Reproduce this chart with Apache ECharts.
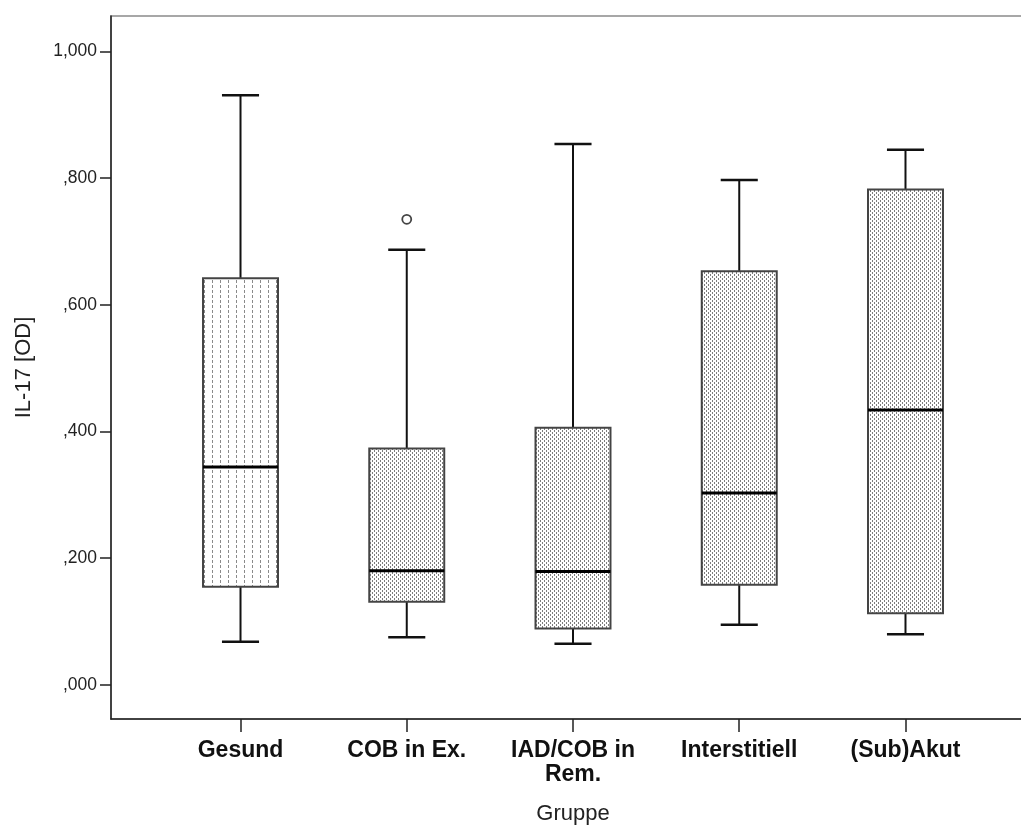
<!DOCTYPE html>
<html>
<head>
<meta charset="utf-8">
<script src="https://cdn.jsdelivr.net/npm/echarts@6/dist/echarts.min.js"></script>
<style>
  html, body { margin: 0; padding: 0; background: #fff; }
  #chart { width: 1021px; height: 829px; }
</style>
</head>
<body>
<div id="chart"></div>
<script>
// Gruppen und Boxplot-Kennwerte (IL-17 [OD])
const categories = ['Gesund', 'COB in Ex.', 'IAD/COB in\nRem.', 'Interstitiell', '(Sub)Akut']
const whiskerLow = [0.068, 0.075, 0.065, 0.095, 0.080]
const q1 = [0.155, 0.131, 0.089, 0.158, 0.113]
const median = [0.344, 0.180, 0.179, 0.303, 0.434]
const q3 = [0.642, 0.373, 0.406, 0.653, 0.782]
const whiskerHigh = [0.931, 0.687, 0.854, 0.797, 0.845]
const outliers = [[1, 0.735]]
const yTicks = [0, 0.2, 0.4, 0.6, 0.8, 1.0]

// Füllmuster wie im SPSS-Diagramm
function makePattern(w, h, draw) {
  const c = document.createElement('canvas')
  c.width = w
  c.height = h
  const ctx = c.getContext('2d')
  draw(ctx)
  return { image: c, repeat: 'repeat' }
}
const stripePattern = makePattern(8, 5, ctx => {
  ctx.fillStyle = '#8a8a8a'
  ctx.fillRect(4, 0, 1, 3)
})
const dotPattern = makePattern(4, 4, ctx => {
  ctx.fillStyle = '#7d7d7d'
  ctx.fillRect(0, 0, 1, 2)
  ctx.fillRect(2, 2, 1, 2)
})

const boxData = categories.map((c, i) => [i, whiskerLow[i], q1[i], median[i], q3[i], whiskerHigh[i]])

function fmtTick(v) {
  return v.toFixed(3).replace('.', ',').replace(/^0/, '')
}

function renderBox(params, api) {
  const x = api.value(0)
  const pLow = api.coord([x, api.value(1)])
  const pQ1 = api.coord([x, api.value(2)])
  const pMed = api.coord([x, api.value(3)])
  const pQ3 = api.coord([x, api.value(4)])
  const pHigh = api.coord([x, api.value(5)])
  const band = api.size([1, 0])[0]
  const boxW = band * 0.451
  const capW = band * 0.223
  const cx = pMed[0]
  const lineStyle = { stroke: '#111', lineWidth: 2 }
  return {
    type: 'group',
    children: [
      { type: 'line', shape: { x1: cx, y1: pHigh[1], x2: cx, y2: pQ3[1] }, style: lineStyle },
      { type: 'line', shape: { x1: cx, y1: pQ1[1], x2: cx, y2: pLow[1] }, style: lineStyle },
      { type: 'line', shape: { x1: cx - capW / 2, y1: pHigh[1], x2: cx + capW / 2, y2: pHigh[1] }, style: { stroke: '#111', lineWidth: 2.5 } },
      { type: 'line', shape: { x1: cx - capW / 2, y1: pLow[1], x2: cx + capW / 2, y2: pLow[1] }, style: { stroke: '#111', lineWidth: 2.5 } },
      {
        type: 'rect',
        shape: { x: cx - boxW / 2, y: pQ3[1], width: boxW, height: pQ1[1] - pQ3[1] },
        style: { fill: params.dataIndex === 0 ? stripePattern : dotPattern, stroke: '#444', lineWidth: 2 }
      },
      { type: 'line', shape: { x1: cx - boxW / 2, y1: pMed[1], x2: cx + boxW / 2, y2: pMed[1] }, style: { stroke: '#000', lineWidth: 3 } }
    ]
  }
}

function renderOutlier(params, api) {
  const p = api.coord([api.value(0), api.value(1)])
  return {
    type: 'circle',
    shape: { cx: p[0], cy: p[1], r: 4.5 },
    style: { fill: '#fff', stroke: '#444', lineWidth: 1.8 }
  }
}

const chart = echarts.init(document.getElementById('chart'), null, { renderer: 'canvas' })

chart.setOption({
  backgroundColor: '#fff',
  animation: false,
  textStyle: { fontFamily: 'Liberation Sans, Arial, sans-serif' },
  grid: {
    left: 111, top: 16, width: 924, height: 703,
    outerBoundsMode: 'none',
    containLabel: false,
    show: true, borderColor: '#8a8a8a', borderWidth: 1.5, backgroundColor: 'transparent'
  },
  xAxis: {
    type: 'value',
    min: -0.779,
    max: 4.779,
    name: 'Gruppe',
    nameLocation: 'middle',
    nameGap: 84,
    nameTextStyle: { fontSize: 22, color: '#222' },
    axisLine: { show: true, onZero: false, lineStyle: { color: '#222', width: 1.5 } },
    axisTick: { show: true, length: 13, customValues: [0, 1, 2, 3, 4], lineStyle: { color: '#222', width: 1.5 } },
    axisLabel: {
      customValues: [0, 1, 2, 3, 4],
      formatter: v => categories[Math.round(v)],
      fontSize: 23,
      fontWeight: 'bold',
      color: '#111',
      margin: 20,
      lineHeight: 24
    },
    splitLine: { show: false }
  },
  yAxis: {
    type: 'value',
    min: -0.054,
    max: 1.056,
    name: 'IL-17 [OD]',
    nameLocation: 'middle',
    nameGap: 76,
    nameTextStyle: { fontSize: 22, color: '#222' },
    axisLine: { show: true, onZero: false, lineStyle: { color: '#222', width: 1.5 } },
    axisTick: { show: true, length: 11, customValues: yTicks, lineStyle: { color: '#222', width: 1.5 } },
    axisLabel: {
      customValues: yTicks,
      formatter: fmtTick,
      fontSize: 17.5,
      color: '#222',
      margin: 14
    },
    splitLine: { show: false }
  },
  series: [
    {
      type: 'custom',
      renderItem: renderBox,
      data: boxData,
      encode: { x: 0, y: [1, 2, 3, 4, 5] },
      clip: false
    },
    {
      type: 'custom',
      renderItem: renderOutlier,
      data: outliers,
      encode: { x: 0, y: 1 }
    }
  ]
})
</script>
</body>
</html>
